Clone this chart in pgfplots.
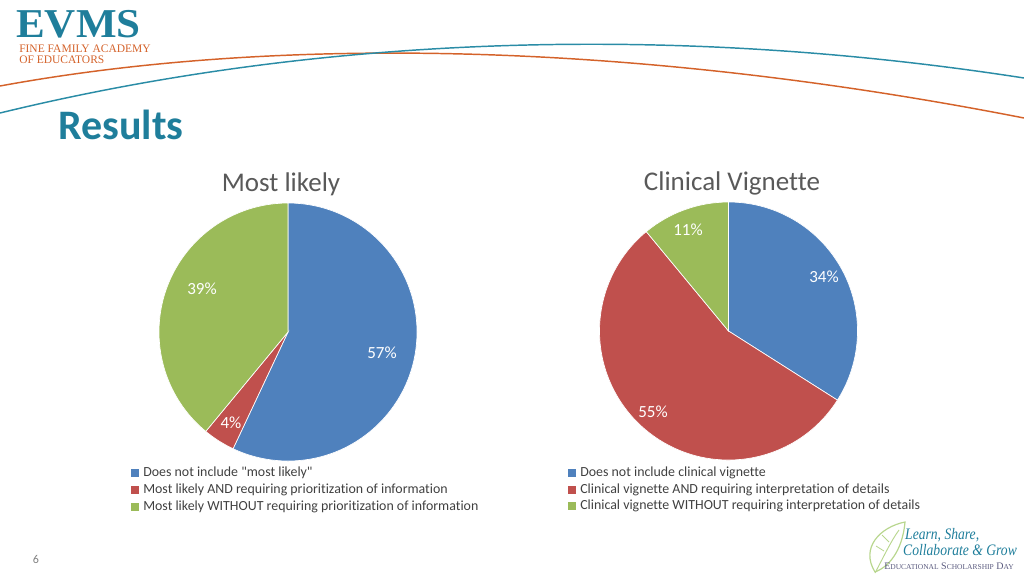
\documentclass[border=0pt]{standalone}
\usepackage{pgfplots}
\pgfplotsset{compat=1.18}
\usepackage{fontspec}
\setmainfont{Carlito}[Ligatures={NoCommon,TeXOff}]
\newfontfamily\serifA{Liberation Serif}
\definecolor{pblue}{HTML}{4F81BD}
\definecolor{pred}{HTML}{C0504D}
\definecolor{pgreen}{HTML}{9BBB59}
\definecolor{teal1}{HTML}{1F7E9B}
\definecolor{teal2}{HTML}{2A8CA6}
\definecolor{orange1}{HTML}{D4622A}
\definecolor{txtgray}{HTML}{595959}
\definecolor{leggray}{HTML}{404040}
\definecolor{leaf}{HTML}{B8D68E}
\definecolor{purp}{HTML}{5A5A7E}
\newcommand\px[1]{\fontsize{\fpeval{#1*0.75}pt}{\fpeval{#1*0.9}pt}\selectfont}
% #1 cx, #2 cy (pixels), #3 list value/colour, clockwise from 12 o'clock
\newcommand\pie[3]{%
  \gdef\acc{0}%
  \foreach \v/\c in {#3}{%
    \pgfmathsetmacro\sa{90-3.6*\acc}%
    \pgfmathsetmacro\ea{90-3.6*(\acc+\v)}%
    \edef\tmp{\noexpand\filldraw[fill=\c, draw=white, line width=0.5pt] (axis cs:#1,#2) -- ++(\sa:96.75pt) arc[start angle=\sa, end angle=\ea, radius=96.75pt] -- cycle;}%
    \tmp
    \pgfmathsetmacro\nacc{\acc+\v}%
    \xdef\acc{\nacc}%
  }%
}
\begin{document}
\begin{tikzpicture}
\path[use as bounding box] (0,0) rectangle (768pt,432pt);
\begin{axis}[x=0.75pt, y=0.75pt, y dir=reverse, xmin=0, xmax=1024, ymin=0, ymax=576,
  hide axis, clip=false, anchor=south west, at={(0,0)}]
% decorative curves
\draw[orange1, line width=1.1pt] (axis cs:0,86) .. controls (axis cs:250,40) and (axis cs:600,35) .. (axis cs:1024,118);
\draw[teal2, line width=1.1pt] (axis cs:0,113) .. controls (axis cs:300,40) and (axis cs:650,20) .. (axis cs:1024,78);
% logo
\node[anchor=base west, inner sep=0pt, text depth=0pt, text height=27pt, teal1, font=\serifA\bfseries\px{41}, xscale=1.05] at (axis cs:16,37) {EVMS};
\node[anchor=base west, inner sep=0pt, text depth=0pt, text height=6pt, orange1, font=\serifA\px{11.5}] at (axis cs:19,52) {FINE FAMILY ACADEMY};
\node[anchor=base west, inner sep=0pt, text depth=0pt, text height=6pt, orange1, font=\serifA\px{11.5}] at (axis cs:19,63) {OF EDUCATORS};
% title
\node[anchor=base west, inner sep=0pt, teal1, font=\bfseries\px{42}] at (axis cs:58,139) {Results};
% chart titles
\node[anchor=base, inner sep=0pt, txtgray, font=\px{27}] at (axis cs:281,191) {Most likely};
\node[anchor=base, inner sep=0pt, txtgray, font=\px{27}] at (axis cs:732,190) {Clinical Vignette};
% pies
\pie{288}{332}{57/pblue, 4/pred, 39/pgreen}
\pie{728.5}{331}{34/pblue, 55/pred, 11/pgreen}
% data labels
\node[white, font=\px{17}] at (axis cs:382,353) {57\%};
\node[white, font=\px{17}] at (axis cs:231,423) {4\%};
\node[white, font=\px{17}] at (axis cs:202,289) {39\%};
\node[white, font=\px{17}] at (axis cs:688,230) {11\%};
\node[white, font=\px{17}] at (axis cs:824,277) {34\%};
\node[white, font=\px{17}] at (axis cs:653,412) {55\%};
% legends
\fill[pblue] (axis cs:131,469) rectangle (axis cs:139,477);
\fill[pred] (axis cs:131,486) rectangle (axis cs:139,494);
\fill[pgreen] (axis cs:131,503) rectangle (axis cs:139,511);
\node[anchor=west, inner sep=0pt, leggray, font=\px{13.9}] at (axis cs:143,473) {Does not include "most likely"};
\node[anchor=west, inner sep=0pt, leggray, font=\px{13.9}] at (axis cs:143,490) {Most likely AND requiring prioritization of information};
\node[anchor=west, inner sep=0pt, leggray, font=\px{13.9}] at (axis cs:143,507) {Most likely WITHOUT requiring prioritization of information};
\fill[pblue] (axis cs:568,469) rectangle (axis cs:576,477);
\fill[pred] (axis cs:568,486) rectangle (axis cs:576,494);
\fill[pgreen] (axis cs:568,502) rectangle (axis cs:576,510);
\node[anchor=west, inner sep=0pt, leggray, font=\px{13.9}] at (axis cs:580,473) {Does not include clinical vignette};
\node[anchor=west, inner sep=0pt, leggray, font=\px{13.9}] at (axis cs:580,490) {Clinical vignette AND requiring interpretation of details};
\node[anchor=west, inner sep=0pt, leggray, font=\px{13.9}] at (axis cs:580,506) {Clinical vignette WITHOUT requiring interpretation of details};
% page number
\node[gray, font=\px{12}] at (axis cs:36,559) {6};
% bottom-right logo
\draw[leaf, line width=0.9pt] (axis cs:875,572) .. controls (axis cs:860,548) and (axis cs:880,527) .. (axis cs:905,522) .. controls (axis cs:903,545) and (axis cs:893,565) .. (axis cs:875,572);
\draw[leaf, line width=0.7pt] (axis cs:875,573) .. controls (axis cs:884,556) and (axis cs:891,541) .. (axis cs:899,530);
\draw[leaf, line width=0.6pt] (axis cs:884,551) -- (axis cs:876,546);
\draw[leaf, line width=0.6pt] (axis cs:889,542) -- (axis cs:882,535);
\node[anchor=base west, inner sep=0pt, teal1, font=\serifA\itshape\px{16}, xscale=0.85] at (axis cs:905,539) {Learn, Share,};
\node[anchor=base west, inner sep=0pt, teal1, font=\serifA\itshape\px{16}, xscale=0.85] at (axis cs:903,555) {Collaborate \& Grow};
\node[anchor=base west, inner sep=0pt, purp, font=\serifA\px{10}] at (axis cs:884,569) {E{\px{7.5}DUCATIONAL} S{\px{7.5}CHOLARSHIP} D{\px{7.5}AY}};
\end{axis}
\end{tikzpicture}
\end{document}
